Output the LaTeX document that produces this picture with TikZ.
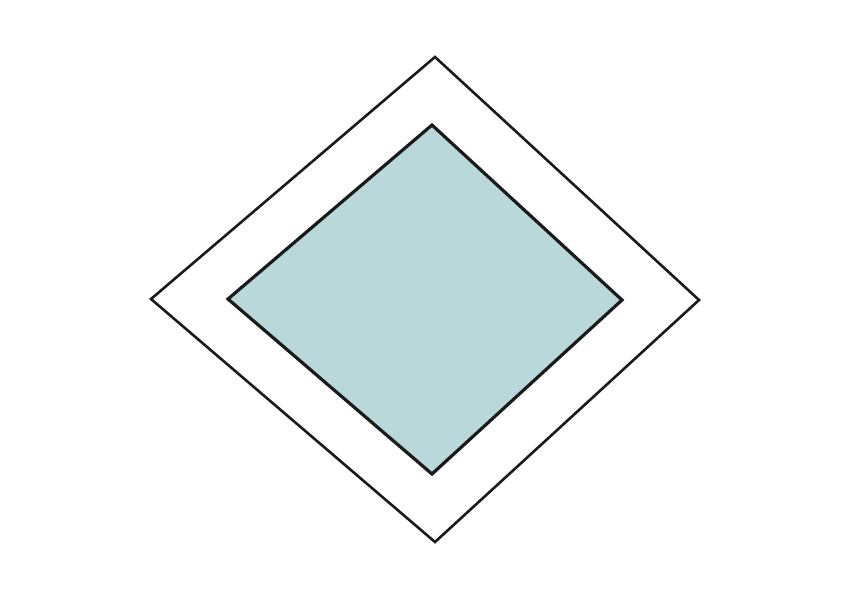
\documentclass[tikz,border=0pt]{standalone}
\definecolor{innerfill}{HTML}{B8D8D9}
\definecolor{edge}{HTML}{1A1A1A}
\tikzset{
  outerdia/.style={draw=edge, line width=2.6pt, line join=miter},
  innerdia/.style={draw=edge, fill=innerfill, line width=3.2pt, line join=miter}
}
\begin{document}
\begin{tikzpicture}[x=1pt,y=-1pt]
\useasboundingbox (0,0) rectangle (850,600);
\coordinate (ot) at (435,57);
\coordinate (or) at (699,300);
\coordinate (ob) at (435,542);
\coordinate (ol) at (151,299);
\coordinate (it) at (432,125);
\coordinate (ir) at (622,300);
\coordinate (ib) at (432,474);
\coordinate (il) at (228,299);
\draw[outerdia] (ot) -- (or) -- (ob) -- (ol) -- cycle;
\draw[innerdia] (it) -- (ir) -- (ib) -- (il) -- cycle;
\end{tikzpicture}
\end{document}
